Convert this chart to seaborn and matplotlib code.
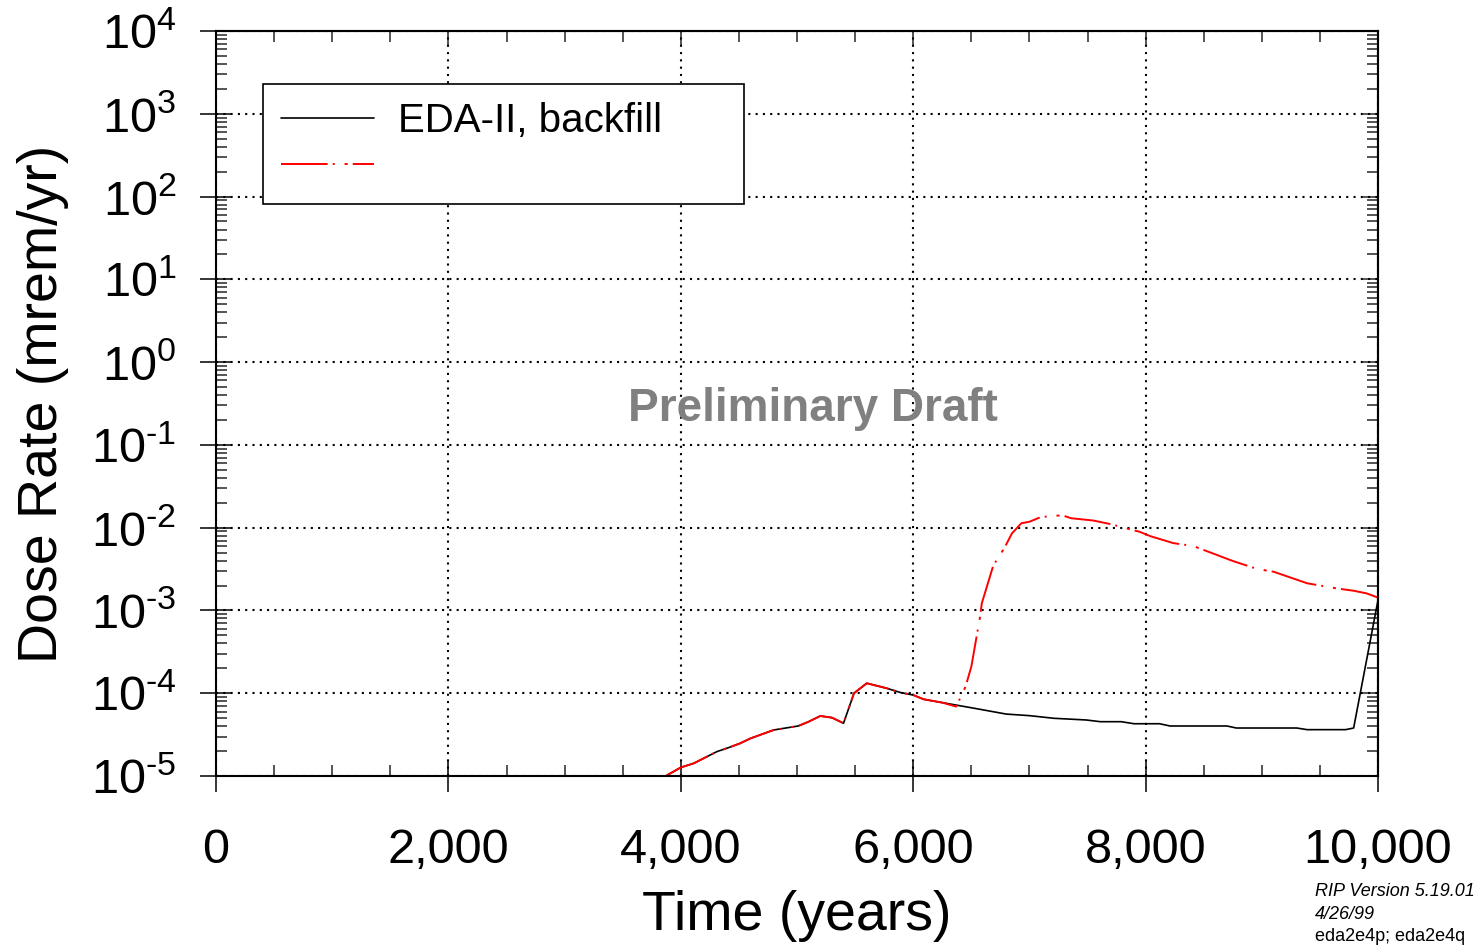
import numpy as np
import matplotlib
matplotlib.use("Agg")
import matplotlib.pyplot as plt
import matplotlib.ticker as mticker
import seaborn as sns

# Dose rate histories (years, mrem/yr)
years_backfill = [3870, 4000, 4110, 4310, 4410, 4510, 4600, 4800, 5010, 5100,
                  5200, 5300, 5400, 5490, 5600, 5770, 5890, 6000, 6090, 6250,
                  6520, 6800, 7000, 7210, 7490, 7610, 7790, 7900, 8120, 8210,
                  8700, 8780, 9300, 9390, 9720, 9790, 10000]
dose_backfill = [1.0e-5, 1.27e-5, 1.42e-5, 1.97e-5, 2.2e-5, 2.48e-5, 2.85e-5, 3.6e-5, 4.02e-5, 4.53e-5,
                 5.31e-5, 5.07e-5, 4.34e-5, 1.0e-4, 1.32e-4, 1.15e-4, 1.02e-4, 9.5e-5, 8.45e-5, 7.7e-5,
                 6.6e-5, 5.6e-5, 5.36e-5, 4.98e-5, 4.75e-5, 4.53e-5, 4.53e-5, 4.28e-5, 4.28e-5, 4.02e-5,
                 4.02e-5, 3.8e-5, 3.8e-5, 3.63e-5, 3.63e-5, 3.8e-5, 1.34e-3]

years_other = [3870, 4000, 4110, 4310, 4410, 4510, 4600, 4800, 5010, 5100,
               5200, 5300, 5400, 5490, 5600, 5770, 5890, 6000, 6090, 6250,
               6370, 6450, 6500, 6540, 6575, 6590, 6690, 6730, 6790, 6850,
               6930, 7000, 7090, 7210, 7290, 7360, 7550, 7690, 7780, 7950,
               8040, 8240, 8410, 8750, 8960, 9100, 9390, 9640, 9790, 9900, 10000]
dose_other = [1.0e-5, 1.27e-5, 1.42e-5, 1.97e-5, 2.2e-5, 2.48e-5, 2.85e-5, 3.6e-5, 4.02e-5, 4.53e-5,
              5.31e-5, 5.07e-5, 4.34e-5, 1.0e-4, 1.32e-4, 1.15e-4, 1.02e-4, 9.5e-5, 8.45e-5, 7.7e-5,
              6.9e-5, 1.2e-4, 2.1e-4, 4.4e-4, 8.4e-4, 1.22e-3, 3.54e-3, 4.27e-3, 5.9e-3, 8.55e-3,
              1.13e-2, 1.18e-2, 1.33e-2, 1.40e-2, 1.40e-2, 1.30e-2, 1.22e-2, 1.11e-2, 1.03e-2, 8.9e-3,
              7.9e-3, 6.5e-3, 6.0e-3, 3.96e-3, 3.17e-3, 2.94e-3, 2.13e-3, 1.85e-3, 1.73e-3, 1.61e-3, 1.43e-3]

labels = ["EDA-II, backfill", ""]

sns.set_style("ticks")
plt.rcParams["font.family"] = ["Liberation Sans", "DejaVu Sans"]
plt.rcParams["text.color"] = "black"
plt.rcParams["axes.labelcolor"] = "black"
plt.rcParams["mathtext.fontset"] = "custom"
plt.rcParams["mathtext.rm"] = "Liberation Sans"
plt.rcParams["mathtext.it"] = "Liberation Sans:italic"
plt.rcParams["mathtext.bf"] = "Liberation Sans:bold"

fig = plt.figure(figsize=(14.84, 9.46), dpi=100)
ax = fig.add_axes([0.1456, 0.1797, 0.7830, 0.7875])

sns.lineplot(x=years_backfill, y=dose_backfill, color="black", lw=1.2,
             estimator=None, sort=False, ax=ax, legend=False)
sns.lineplot(x=years_other, y=dose_other, color="red", lw=1.4,
             linestyle=(0, (24, 2.6, 1, 5.1, 1.6, 2.6)),
             estimator=None, sort=False, ax=ax, legend=False)

ax.set_yscale("log")
ax.set_xlim(0, 10000)
ax.set_ylim(1e-5, 1e4)


def exp_label(v, p):
    e = int(round(np.log10(v)))
    sign = r"\text{-}" if e < 0 else ""
    return r"$\mathregular{10^{%s%d}}$" % (sign, abs(e))


ax.xaxis.set_major_locator(mticker.MultipleLocator(2000))
ax.xaxis.set_minor_locator(mticker.MultipleLocator(500))
ax.xaxis.set_major_formatter(mticker.FuncFormatter(lambda v, p: f"{v:,.0f}"))
ax.yaxis.set_major_locator(mticker.LogLocator(base=10, numticks=20))
ax.yaxis.set_minor_locator(mticker.LogLocator(base=10, subs=np.arange(2, 10), numticks=20))
ax.yaxis.set_major_formatter(mticker.FuncFormatter(exp_label))

ax.tick_params(which="major", direction="inout", length=23, width=1.1,
               labelsize=35, colors="black")
ax.tick_params(which="minor", direction="in", length=8, width=1.1)
ax.tick_params(axis="x", which="major", pad=26)
ax.tick_params(axis="y", which="major", pad=17)

ax.grid(which="major", color="black", linestyle=(0, (1, 2.5)), lw=1.5)
ax.grid(which="minor", visible=False)

for s in ax.spines.values():
    s.set_visible(True)
    s.set_linewidth(1.5)
    s.set_color("black")

# inward ticks on top and right
secx = ax.secondary_xaxis("top")
secx.xaxis.set_major_locator(mticker.MultipleLocator(2000))
secx.xaxis.set_minor_locator(mticker.MultipleLocator(500))
secx.tick_params(which="major", direction="in", length=11, width=1.1, labeltop=False)
secx.tick_params(which="minor", direction="in", length=8, width=1.1)
secy = ax.secondary_yaxis("right")
secy.yaxis.set_major_locator(mticker.LogLocator(base=10, numticks=20))
secy.yaxis.set_minor_locator(mticker.LogLocator(base=10, subs=np.arange(2, 10), numticks=20))
secy.tick_params(which="major", direction="in", length=11, width=1.1, labelright=False)
secy.tick_params(which="minor", direction="in", length=8, width=1.1)
for sec in (secx, secy):
    for s in sec.spines.values():
        s.set_linewidth(1.5)

ax.set_xlabel("Time (years)", fontsize=40, labelpad=12)
ax.set_ylabel("Dose Rate (mrem/yr)", fontsize=40, labelpad=16)

ax.text(0.514, 0.493, "Preliminary Draft", transform=ax.transAxes,
        ha="center", va="center", fontsize=33, fontweight="bold",
        color="#808080", zorder=1)

handles = ax.get_lines()[:2]
leg = ax.legend(handles, labels, loc="upper left",
                bbox_to_anchor=(0.0404, 0.0, 0.414, 0.9289), mode="expand",
                fontsize=29, frameon=True, fancybox=False, framealpha=1,
                edgecolor="black", borderpad=0.45, labelspacing=0.2,
                handlelength=2.3, handletextpad=0.6, borderaxespad=0)
leg.get_frame().set_linewidth(1.2)

fig.text(0.886, 0.0529, "RIP Version 5.19.01", fontsize=13, style="italic", va="baseline")
fig.text(0.886, 0.0285, "4/26/99", fontsize=13, style="italic", va="baseline")
fig.text(0.886, 0.0053, "eda2e4p; eda2e4q", fontsize=13, va="baseline")

fig.savefig("out.png", dpi=100)
